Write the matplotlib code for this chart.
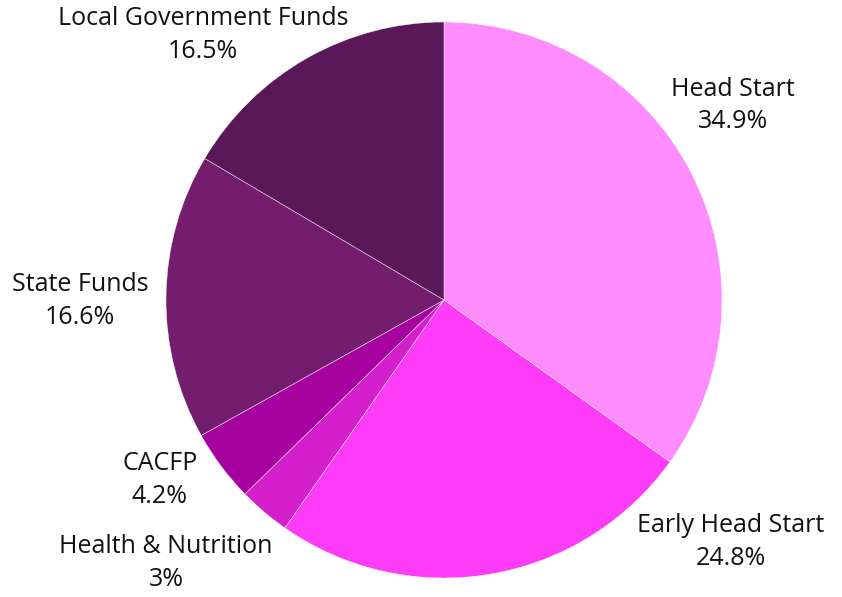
import matplotlib
matplotlib.use('Agg')
import matplotlib.pyplot as plt

# funding sources, clockwise from 12 o'clock
sources = ['Head Start', 'Early Head Start', 'Health & Nutrition', 'CACFP',
           'State Funds', 'Local Government Funds']
shares = [34.9, 24.8, 3.0, 4.2, 16.6, 16.5]
pct_labels = ['34.9%', '24.8%', '3%', '4.2%', '16.6%', '16.5%']
colors = ['#FF8CFC', '#FE3BF6', '#D31FCC', '#A6009F', '#741C6E', '#5A1858']

# where the outside labels sit (pie radius = 1)
label_xy = [(1.04, 0.70), (1.032, -0.871), (-1.0, -0.946), (-1.022, -0.647),
            (-1.309, -0.004), (-0.867, 0.953)]

plt.rcParams['font.family'] = ['Open Sans', 'DejaVu Sans']

fig = plt.figure(figsize=(8.42, 5.97), dpi=100)
ax = fig.add_axes([0, 0, 1, 1])

ax.pie(shares, colors=colors, startangle=90, counterclock=False, radius=1,
       wedgeprops=dict(edgecolor='white', linewidth=0.3))

for name, pct, (x, y) in zip(sources, pct_labels, label_xy):
    ax.text(x, y, name + '\n' + pct, ha='center', va='center', fontsize=18,
            linespacing=1.4, color='#111111')

r = 278.0
ax.set_xlim(-444 / r, (842 - 444) / r)
ax.set_ylim(-297 / r, 300 / r)
ax.set_aspect('auto')
ax.axis('off')

fig.savefig('out.png', dpi=100)
